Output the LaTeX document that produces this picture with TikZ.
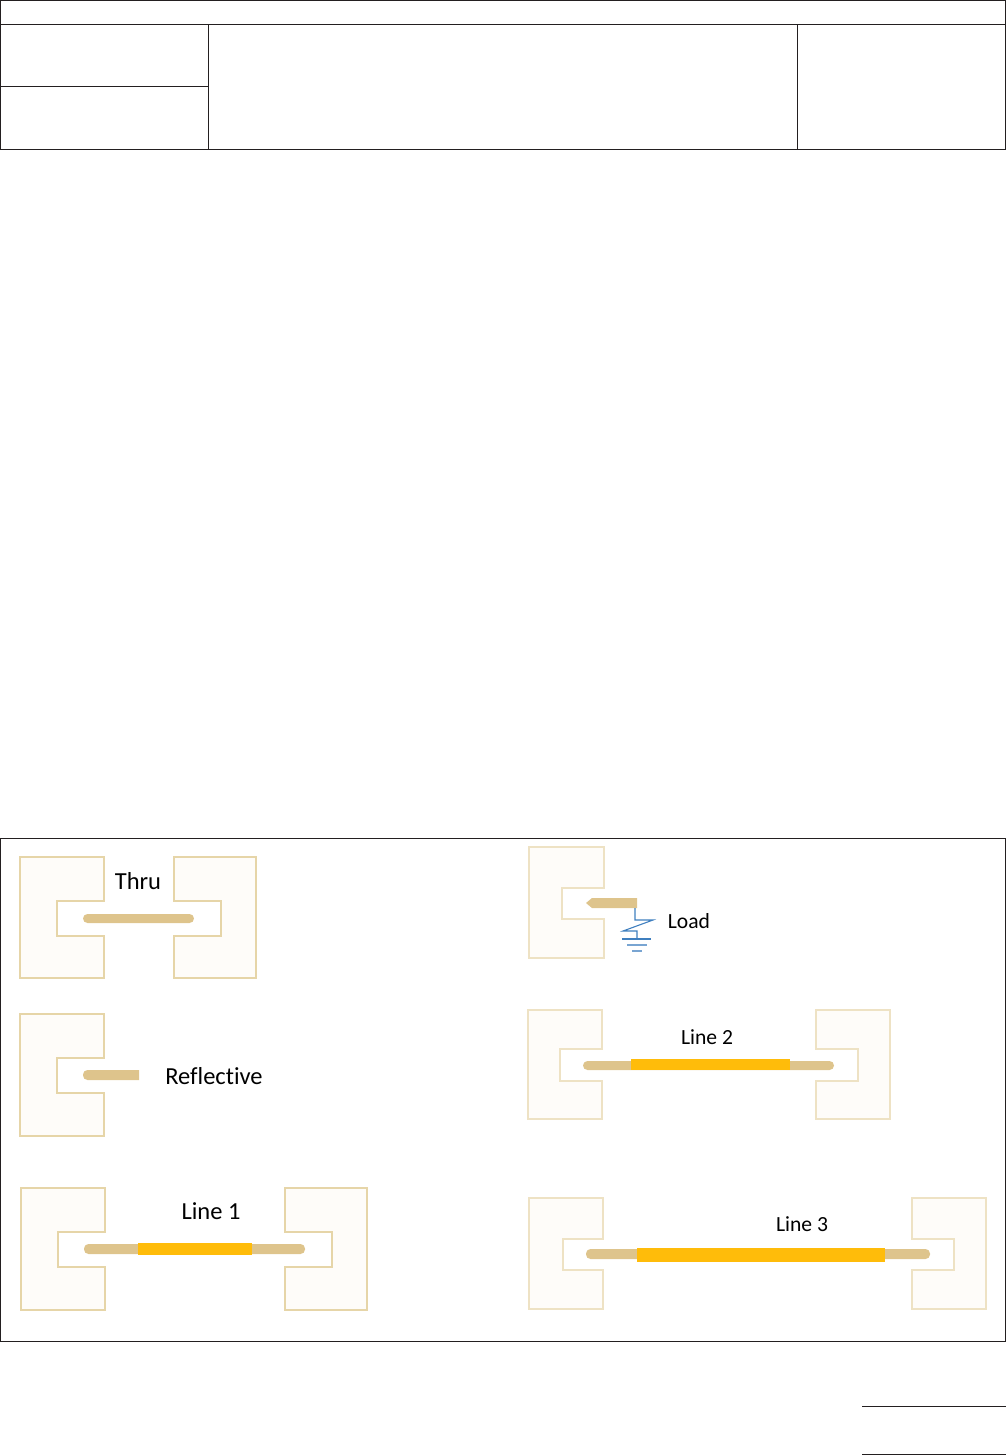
\documentclass[tikz,border=0pt]{standalone}
\usepackage{fontspec}
\setmainfont[Ligatures=NoCommon]{Carlito}
\usetikzlibrary{positioning}
\definecolor{padFill}{HTML}{FEFCF9}
\definecolor{padEdge}{HTML}{E6D5A8}
\definecolor{padEdgeLight}{HTML}{EEE2C4}
\definecolor{traceTan}{HTML}{DEC48C}
\definecolor{lineGold}{HTML}{FFBC0A}
\definecolor{loadBlue}{HTML}{3F7FBF}
\definecolor{rule}{HTML}{231F20}
\tikzstyle{tableLine}=[draw=rule, line width=1.25pt]
\tikzstyle{padShape}=[draw=padEdge, fill=padFill, line width=1.1pt]
\tikzstyle{padLight}=[draw=padEdgeLight, fill=padFill, line width=1.1pt]
\tikzstyle{traceBar}=[fill=traceTan]
\tikzstyle{lineBar}=[fill=lineGold]
\tikzstyle{loadWire}=[draw=loadBlue, line width=1.1pt]
\tikzstyle{groundWire}=[draw=loadBlue!70, line width=1.1pt]
\tikzstyle{calLabel}=[inner sep=0pt, text=black, font=\fontsize{24.5}{26}\selectfont]
\tikzstyle{calSmall}=[inner sep=0pt, text=black, font=\fontsize{21.6}{24}\selectfont]

\begin{document}
\begin{tikzpicture}[x=1pt, y=-1pt]
    \useasboundingbox (0,0) rectangle (1006,1455);

    % header table
    \draw[tableLine] (0.5,0.5) rectangle (1005.5,149.5);
    \draw[tableLine] (0.5,24.5) -- (1005.5,24.5);
    \draw[tableLine] (0.5,86.5) -- (208.5,86.5);
    \draw[tableLine] (208.5,24.5) -- (208.5,149.5);
    \draw[tableLine] (797.5,24.5) -- (797.5,149.5);

    % frame and the two short rules
    \draw[tableLine] (0.5,838.5) rectangle (1005.5,1341.5);
    \draw[tableLine] (862,1406.5) -- (1006,1406.5);
    \draw[tableLine] (862,1454.5) -- (1006,1454.5);

    % Thru
    \draw[padShape] (20,857) -- (104,857) -- (104,901) -- (57,901) -- (57,936) -- (104,936) -- (104,978) -- (20,978) -- cycle;
    \draw[padShape] (256,857) -- (174,857) -- (174,901) -- (221,901) -- (221,936) -- (174,936) -- (174,978) -- (256,978) -- cycle;
    \fill[traceBar, rounded corners=4.5pt] (83,914) rectangle (194,923);
    \node[calLabel] (thruLabel) at (138,881) {Thru};

    % Reflective
    \draw[padShape] (20,1014) -- (104,1014) -- (104,1058) -- (57,1058) -- (57,1093) -- (104,1093) -- (104,1136) -- (20,1136) -- cycle;
    \fill[traceBar] (139,1070) -- (139,1080) [rounded corners=4.5pt] -- (83,1080) -- (83,1070) [sharp corners] -- cycle;
    \node[calLabel] (reflectiveLabel) at (214,1076) {Reflective};

    % Line 1
    \draw[padShape] (21,1188) -- (105,1188) -- (105,1232) -- (58,1232) -- (58,1267) -- (105,1267) -- (105,1310) -- (21,1310) -- cycle;
    \draw[padShape] (367,1188) -- (285,1188) -- (285,1232) -- (332,1232) -- (332,1267) -- (285,1267) -- (285,1310) -- (367,1310) -- cycle;
    \fill[traceBar, rounded corners=4.5pt] (84,1244) rectangle (305,1254);
    \fill[lineBar] (138,1243) rectangle (252,1255);
    \node[calLabel] (lineOneLabel) at (211,1211) {Line 1};

    % Load
    \draw[padLight] (529,847) -- (604,847) -- (604,888) -- (562,888) -- (562,919) -- (604,919) -- (604,958) -- (529,958) -- cycle;
    \fill[traceBar] (637,898) -- (637,908) -- (592,908) -- (586,903) -- (592,898) -- cycle;
    \coordinate (loadTop) at (635,908);
    \coordinate (loadGnd) at (637,939);
    \draw[loadWire] (loadTop) -- (635,920) -- (653,920) -- (623,931) -- (637,931) -- (loadGnd);
    \draw[loadWire] (622,939) -- (651,939);
    \draw[groundWire] (627,945) -- (647,945);
    \draw[groundWire] (632,951) -- (642,951);
    \node[calSmall] (loadLabel) at (689,921) {Load};

    % Line 2
    \draw[padLight] (528,1010) -- (602,1010) -- (602,1049) -- (560,1049) -- (560,1081) -- (602,1081) -- (602,1119) -- (528,1119) -- cycle;
    \draw[padLight] (890,1010) -- (816,1010) -- (816,1049) -- (858,1049) -- (858,1081) -- (816,1081) -- (816,1119) -- (890,1119) -- cycle;
    \fill[traceBar, rounded corners=4.5pt] (583,1061) rectangle (834,1070);
    \fill[lineBar] (631,1059) rectangle (790,1070);
    \node[calSmall] (lineTwoLabel) at (707,1037) {Line 2};

    % Line 3
    \draw[padLight] (529,1198) -- (603,1198) -- (603,1239) -- (563,1239) -- (563,1270) -- (603,1270) -- (603,1309) -- (529,1309) -- cycle;
    \draw[padLight] (986,1198) -- (912,1198) -- (912,1239) -- (954,1239) -- (954,1270) -- (912,1270) -- (912,1309) -- (986,1309) -- cycle;
    \fill[traceBar, rounded corners=4.5pt] (586,1249) rectangle (930,1259);
    \fill[lineBar] (637,1248) rectangle (885,1262);
    \node[calSmall] (lineThreeLabel) at (802,1224) {Line 3};

\end{tikzpicture}
\end{document}
